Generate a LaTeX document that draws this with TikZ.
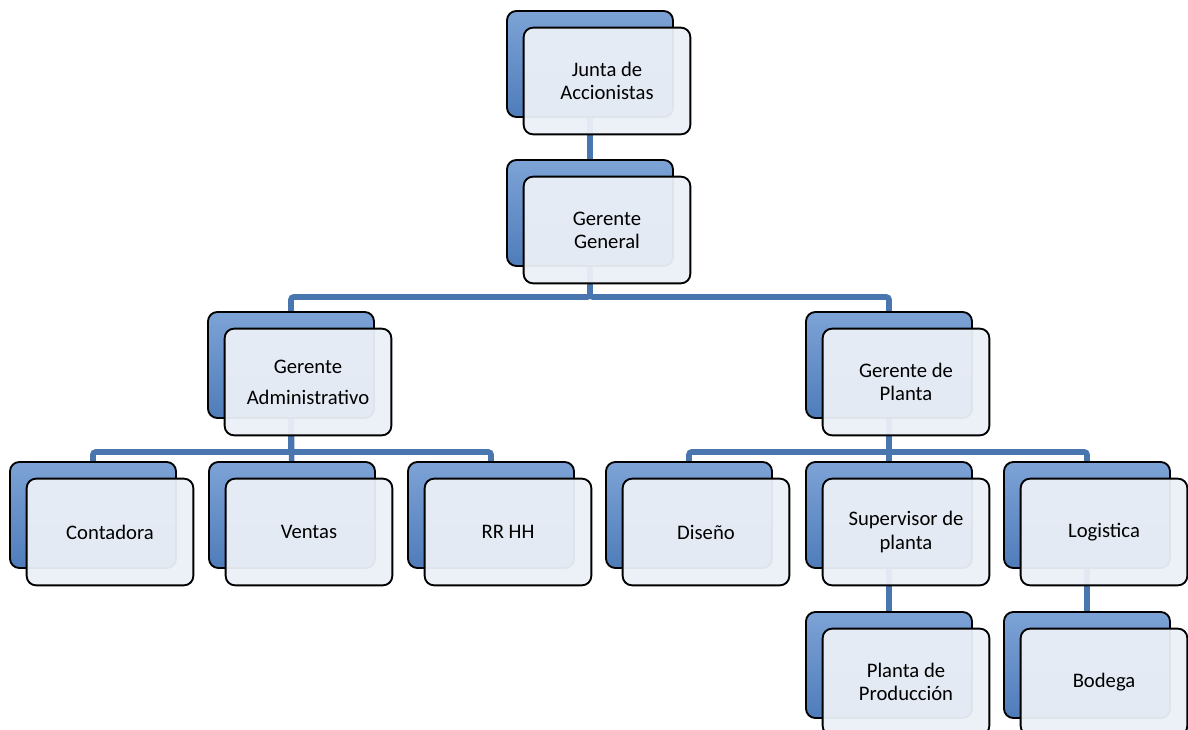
\documentclass[tikz,border=0pt]{standalone}
\usepackage{fontspec}
\setmainfont{Carlito}
\usepackage{tikz}
\definecolor{linkblue}{RGB}{74,118,176}
\definecolor{backtop}{RGB}{125,163,214}
\definecolor{backbottom}{RGB}{79,124,186}
\definecolor{frontfill}{RGB}{236,240,247}

\begin{document}
\begin{tikzpicture}[x=0.75pt,y=-0.75pt,
		backbox/.style={rectangle,rounded corners=7pt,draw=black,line width=1.4pt,
			minimum width=124.5pt,minimum height=79.5pt,top color=backtop,bottom color=backbottom},
		frontbox/.style={rectangle,rounded corners=7pt,draw=black,line width=1.4pt,
			minimum width=125pt,minimum height=80pt,fill=frontfill,fill opacity=0.95,text opacity=1,
			xshift=12.75pt,yshift=-12.75pt,align=center,font=\fontsize{15.5}{17.3}\selectfont},
		link/.style={linkblue,line width=4.2pt,rounded corners=2pt}]
		\clip (0,0) rectangle (1188,730);
		\fill[white] (0,0) rectangle (1188,730);
		
		\coordinate (ja-c) at (590,64);
		\coordinate (gg-c) at (590,213);
		\coordinate (ga-c) at (291,365);
		\coordinate (gp-c) at (889,365);
		\coordinate (co-c) at (93,515);
		\coordinate (ve-c) at (292,515);
		\coordinate (rh-c) at (491,515);
		\coordinate (di-c) at (689,515);
		\coordinate (sp-c) at (889,515);
		\coordinate (lo-c) at (1087,515);
		\coordinate (pp-c) at (889,665);
		\coordinate (bo-c) at (1087,665);
		
		\draw[link] (ja-c) -- (gg-c);
		\draw[link] (gg-c) -- ++(0,84) -| (ga-c);
		\draw[link] (gg-c) -- ++(0,84) -| (gp-c);
		\draw[link] (ga-c) -- ++(0,87) -| (co-c);
		\draw[link] (ga-c) -- (ve-c);
		\draw[link] (ga-c) -- ++(0,87) -| (rh-c);
		\draw[link] (gp-c) -- ++(0,87) -| (di-c);
		\draw[link] (gp-c) -- (sp-c);
		\draw[link] (gp-c) -- ++(0,87) -| (lo-c);
		\draw[link] (sp-c) -- (pp-c);
		\draw[link] (lo-c) -- (bo-c);
		
		\node[backbox] (ja-b) at (ja-c) {};
		\node[frontbox] (ja) at (ja-c) {Junta de\\Accionistas};
		\node[backbox] (gg-b) at (gg-c) {};
		\node[frontbox] (gg) at (gg-c) {Gerente\\General};
		\node[backbox] (ga-b) at (ga-c) {};
		\node[frontbox,font=\fontsize{15.5}{23.3}\selectfont] (ga) at (ga-c) {Gerente\\Administrativo};
		\node[backbox] (gp-b) at (gp-c) {};
		\node[frontbox] (gp) at (gp-c) {Gerente de\\Planta};
		\node[backbox] (co-b) at (co-c) {};
		\node[frontbox] (co) at (co-c) {Contadora};
		\node[backbox] (ve-b) at (ve-c) {};
		\node[frontbox] (ve) at (ve-c) {Ventas};
		\node[backbox] (rh-b) at (rh-c) {};
		\node[frontbox] (rh) at (rh-c) {RR HH};
		\node[backbox] (di-b) at (di-c) {};
		\node[frontbox] (di) at (di-c) {Diseño};
		\node[backbox] (sp-b) at (sp-c) {};
		\node[frontbox] (sp) at (sp-c) {Supervisor de\\planta};
		\node[backbox] (lo-b) at (lo-c) {};
		\node[frontbox] (lo) at (lo-c) {Logistica};
		\node[backbox] (pp-b) at (pp-c) {};
		\node[frontbox] (pp) at (pp-c) {Planta de\\Producción};
		\node[backbox] (bo-b) at (bo-c) {};
		\node[frontbox] (bo) at (bo-c) {Bodega};
	\end{tikzpicture}
\end{document}
